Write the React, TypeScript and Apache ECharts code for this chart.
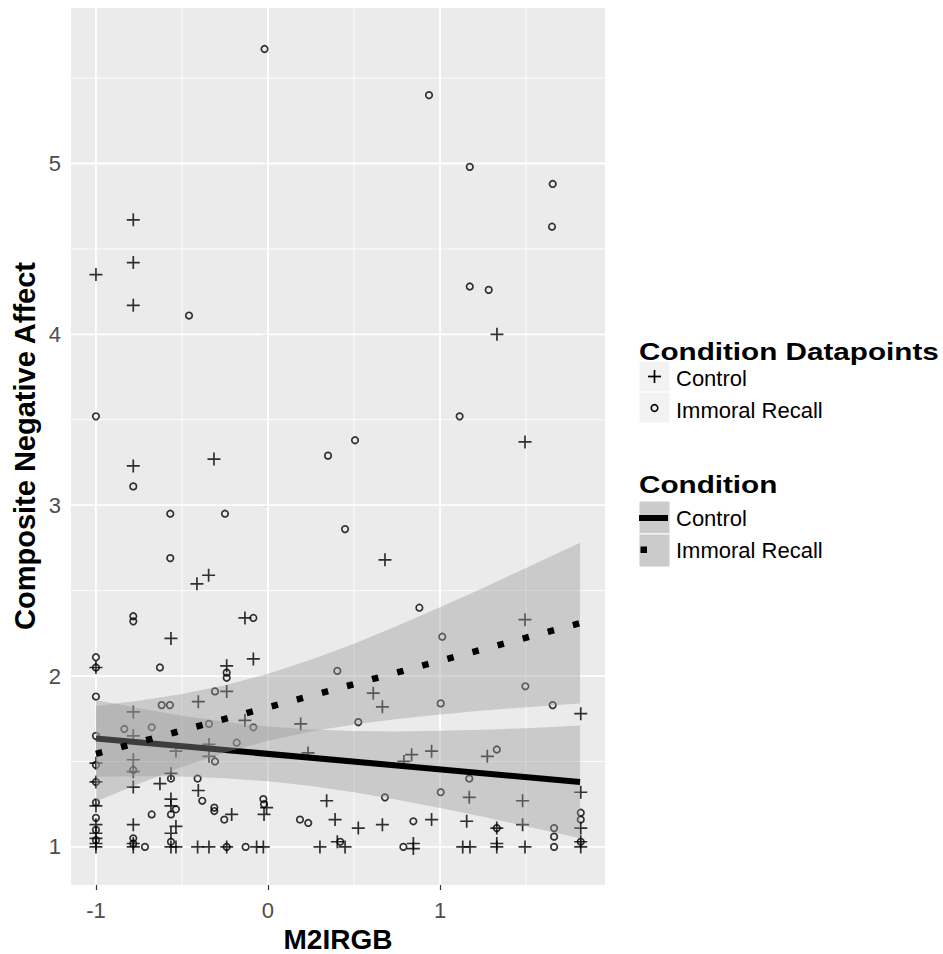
import React, { useEffect, useRef } from "react";
import * as echarts from "echarts";

// ---- axis ranges and ticks ----
const X_MIN = -1.145;
const X_MAX = 1.959;
const Y_MIN = 0.777;
const Y_MAX = 5.91;
const xTicks = [-1, 0, 1];
const yTicks = [1, 2, 3, 4, 5];
const xMinor = [-0.5, 0.5, 1.5];
const yMinor = [1.5, 2.5, 3.5, 4.5, 5.5];

// ---- data points ----
const controlPoints: [number, number][] = [
  [-1.0, 4.35], [-0.783, 4.67], [-0.783, 4.42], [-0.783, 4.17], [-0.314, 3.27], [-0.783, 3.23],
  [-0.345, 2.59], [-0.413, 2.54], [1.331, 4.0], [1.494, 3.37], [0.68, 2.68], [-0.134, 2.34],
  [-0.564, 2.22], [-0.085, 2.1], [-1.0, 2.05], [-0.24, 2.06], [-0.24, 1.91], [-0.405, 1.85],
  [-0.783, 1.79], [-0.783, 1.65], [-0.134, 1.74], [0.19, 1.72], [-0.343, 1.6], [-0.343, 1.53],
  [-0.535, 1.56], [-1.0, 1.49], [-0.783, 1.51], [-0.783, 1.44], [-0.564, 1.43], [-1.0, 1.38],
  [-0.783, 1.35], [-0.628, 1.37], [-0.405, 1.33], [-0.564, 1.28], [-0.564, 1.24], [-0.211, 1.19],
  [-0.008, 1.23], [-0.023, 1.19], [-1.0, 1.24], [-1.0, 1.13], [-1.0, 1.08], [-1.0, 1.05],
  [-1.0, 1.02], [-1.0, 1.0], [-0.783, 1.13], [-0.535, 1.12], [-0.564, 1.08], [0.341, 1.27],
  [0.39, 1.16], [0.612, 1.9], [0.665, 1.82], [1.494, 2.33], [1.818, 1.78], [0.835, 1.54],
  [0.951, 1.56], [1.275, 1.53], [1.818, 1.32], [1.17, 1.29], [1.48, 1.27], [1.818, 1.11],
  [0.525, 1.11], [0.665, 1.13], [0.951, 1.16], [1.155, 1.15], [1.33, 1.11], [1.48, 1.13],
  [0.233, 1.55], [0.79, 1.5],
  [-0.783, 1.0], [-0.783, 1.02], [-0.564, 1.0], [-0.535, 1.0], [-0.409, 1.0], [-0.343, 1.0],
  [-0.24, 1.0], [-0.066, 1.0], [-0.027, 1.0], [0.302, 1.0], [0.403, 1.03], [0.448, 1.0],
  [0.845, 1.02], [0.845, 0.99], [1.132, 1.0], [1.174, 1.0], [1.33, 1.0], [1.33, 1.02],
  [1.494, 1.0], [1.818, 1.0], [1.818, 1.03],
];

const immoralPoints: [number, number][] = [
  [-0.02, 5.67], [0.936, 5.4], [1.173, 4.98], [1.655, 4.88], [1.651, 4.63], [1.173, 4.28],
  [1.283, 4.26], [-0.459, 4.11], [-1.0, 3.52], [1.114, 3.52], [0.349, 3.29], [0.506, 3.38],
  [-0.783, 3.11], [-0.568, 2.95], [-0.25, 2.95], [-0.568, 2.69], [0.448, 2.86], [-0.783, 2.35],
  [-0.783, 2.32], [-0.085, 2.34], [-1.0, 2.11], [-1.0, 2.05], [-0.628, 2.05], [-0.24, 2.02],
  [-0.24, 1.99], [0.403, 2.03], [0.88, 2.4], [1.013, 2.23], [-1.0, 1.88], [-0.308, 1.91],
  [-0.618, 1.83], [-0.57, 1.83], [-0.835, 1.69], [-0.676, 1.7], [-1.0, 1.65], [-0.343, 1.72],
  [-0.085, 1.7], [-0.182, 1.61], [-0.308, 1.5], [-1.0, 1.48], [-0.783, 1.45], [-0.564, 1.4],
  [-0.409, 1.4], [-1.0, 1.38], [-0.382, 1.27], [-0.535, 1.22], [-0.564, 1.19], [-0.676, 1.19],
  [-0.312, 1.23], [-0.312, 1.21], [-0.254, 1.16], [-0.027, 1.28], [-0.023, 1.25], [0.186, 1.16],
  [0.234, 1.14], [1.496, 1.94], [1.004, 1.84], [1.655, 1.83], [0.525, 1.73], [1.33, 1.57],
  [1.17, 1.4], [0.68, 1.29], [1.004, 1.32], [1.818, 1.2], [1.818, 1.16], [0.845, 1.15],
  [1.33, 1.11], [1.663, 1.11], [1.663, 1.06], [1.663, 1.0], [-1.0, 1.26], [-1.0, 1.17],
  [-1.0, 1.1], [-1.0, 1.04], [-0.783, 1.05], [-0.783, 1.02], [-0.715, 1.0], [-0.564, 1.03],
  [-0.24, 1.0], [-0.13, 1.0], [0.42, 1.03], [0.787, 1.0], [1.818, 1.03],
];

// ---- fitted lines and confidence bands ----
const fitX = [-1, 1.814];
const controlFit = [1.635, 1.38];
const immoralFit = [1.545, 2.31];

const bandX = [-1, -0.75, -0.5, -0.25, 0, 0.25, 0.5, 0.75, 1, 1.25, 1.5, 1.814];
const controlLower = [1.41, 1.413, 1.412, 1.402, 1.384, 1.357, 1.32, 1.276, 1.228, 1.176, 1.121, 1.05];
const controlUpper = [1.86, 1.811, 1.768, 1.732, 1.704, 1.687, 1.678, 1.676, 1.68, 1.686, 1.695, 1.71];
const immoralLower = [1.265, 1.37, 1.467, 1.552, 1.621, 1.676, 1.717, 1.749, 1.775, 1.798, 1.818, 1.84];
const immoralUpper = [1.825, 1.856, 1.895, 1.946, 2.013, 2.095, 2.189, 2.293, 2.403, 2.516, 2.632, 2.78];

const FONT = '"Liberation Sans", Arial, Helvetica, sans-serif';
const PLUS = "path://M0,6.5L13,6.5M6.5,0L6.5,13";
const BAND_FILL = "rgba(153,153,153,0.4)";

type GridDef = { dir: "x" | "y"; v: number; major: boolean };
const gridDefs: GridDef[] = [
  ...xMinor.map((v) => ({ dir: "x" as const, v, major: false })),
  ...yMinor.map((v) => ({ dir: "y" as const, v, major: false })),
  ...xTicks.map((v) => ({ dir: "x" as const, v, major: true })),
  ...yTicks.map((v) => ({ dir: "y" as const, v, major: true })),
];

function bandSeries(name: string, lower: number[], upper: number[], z: number) {
  return {
    type: "custom",
    name,
    z,
    silent: true,
    data: bandX.map((x, i) => [x, lower[i], upper[i]]),
    encode: { x: 0, y: [1, 2] },
    renderItem: (params: any, api: any) => {
      if (params.dataIndex !== 0) return null;
      const pts: number[][] = [];
      for (let i = 0; i < bandX.length; i++) pts.push(api.coord([bandX[i], upper[i]]));
      for (let i = bandX.length - 1; i >= 0; i--) pts.push(api.coord([bandX[i], lower[i]]));
      return { type: "polygon", shape: { points: pts }, style: { fill: BAND_FILL } };
    },
  };
}

export default function App() {
  const ref = useRef<HTMLDivElement>(null);

  useEffect(() => {
    if (!ref.current) return;
    const chart = echarts.init(ref.current, undefined, { renderer: "svg" });

    const legendText = (text: string, x: number, y: number) => ({
      type: "text",
      x,
      y,
      style: { text, font: `22px ${FONT}`, fill: "#000", textAlign: "left", textVerticalAlign: "middle" },
    });
    const legendTitle = (text: string, x: number, y: number) => ({
      type: "text",
      x,
      y,
      scaleX: 1.29,
      style: { text, font: `bold 23px ${FONT}`, fill: "#000", textAlign: "left", textVerticalAlign: "middle" },
    });

    const option: any = {
      animation: false,
      backgroundColor: "#ffffff",
      grid: {
        left: 71,
        top: 8,
        width: 534,
        height: 877,
        show: true,
        backgroundColor: "#ebebeb",
        borderWidth: 0,
        containLabel: false,
        outerBoundsMode: "none",
      },
      xAxis: {
        type: "value",
        min: X_MIN,
        max: X_MAX,
        splitLine: { show: false },
        axisLine: { show: false },
        axisTick: { show: true, customValues: xTicks, length: 5, lineStyle: { color: "#333333", width: 1.2 } },
        axisLabel: { customValues: xTicks, color: "#4d4d4d", fontSize: 22, fontFamily: FONT, margin: 14 },
      },
      yAxis: {
        type: "value",
        min: Y_MIN,
        max: Y_MAX,
        splitLine: { show: false },
        axisLine: { show: false },
        axisTick: { show: true, customValues: yTicks, length: 5, lineStyle: { color: "#333333", width: 1.2 } },
        axisLabel: { customValues: yTicks, color: "#4d4d4d", fontSize: 22, fontFamily: FONT, margin: 10 },
      },
      series: [
        {
          type: "custom",
          name: "grid",
          z: 1,
          silent: true,
          data: gridDefs.map((g) => [g.dir === "x" ? g.v : 0, g.dir === "y" ? g.v : 1]),
          renderItem: (params: any, api: any) => {
            const g = gridDefs[params.dataIndex];
            let p1: number[];
            let p2: number[];
            if (g.dir === "x") {
              p1 = api.coord([g.v, Y_MIN]);
              p2 = api.coord([g.v, Y_MAX]);
            } else {
              p1 = api.coord([X_MIN, g.v]);
              p2 = api.coord([X_MAX, g.v]);
            }
            return {
              type: "line",
              shape: { x1: p1[0], y1: p1[1], x2: p2[0], y2: p2[1] },
              style: { stroke: "#ffffff", lineWidth: g.major ? 1.8 : 0.9 },
            };
          },
        },
        {
          type: "scatter",
          name: "Control points",
          z: 2,
          silent: true,
          data: controlPoints,
          symbol: PLUS,
          symbolSize: 13,
          itemStyle: { color: "none", borderColor: "#000000", borderWidth: 1.7 },
        },
        {
          type: "scatter",
          name: "Immoral points",
          z: 2,
          silent: true,
          data: immoralPoints,
          symbol: "circle",
          symbolSize: 6.5,
          itemStyle: { color: "none", borderColor: "#000000", borderWidth: 1.7 },
        },
        bandSeries("Control band", controlLower, controlUpper, 3),
        {
          type: "line",
          name: "Control fit",
          z: 4,
          silent: true,
          data: fitX.map((x, i) => [x, controlFit[i]]),
          showSymbol: false,
          symbol: "none",
          lineStyle: { color: "#000000", width: 6, cap: "butt" },
        },
        bandSeries("Immoral band", immoralLower, immoralUpper, 5),
        {
          type: "line",
          name: "Immoral fit",
          z: 6,
          silent: true,
          data: fitX.map((x, i) => [x, immoralFit[i]]),
          showSymbol: false,
          symbol: "none",
          lineStyle: { color: "#000000", width: 6.5, type: [6.5, 19.5], cap: "butt" },
        },
      ],
      graphic: [
        // axis titles
        {
          type: "text",
          x: 338,
          y: 939,
          style: { text: "M2IRGB", font: `bold 28px ${FONT}`, fill: "#000", textAlign: "center", textVerticalAlign: "middle" },
        },
        {
          type: "text",
          x: 25,
          y: 446,
          rotation: Math.PI / 2,
          style: {
            text: "Composite Negative Affect",
            font: `bold 29px ${FONT}`,
            fill: "#000",
            textAlign: "center",
            textVerticalAlign: "middle",
          },
        },
        // legend 1
        legendTitle("Condition Datapoints", 639, 352),
        { type: "rect", shape: { x: 639, y: 361, width: 31, height: 31 }, style: { fill: "#f2f2f2", stroke: "#ffffff", lineWidth: 1 } },
        { type: "rect", shape: { x: 639, y: 392, width: 31, height: 31 }, style: { fill: "#f2f2f2", stroke: "#ffffff", lineWidth: 1 } },
        { type: "line", shape: { x1: 648, y1: 376.5, x2: 661, y2: 376.5 }, style: { stroke: "#000", lineWidth: 1.7 } },
        { type: "line", shape: { x1: 654.5, y1: 370, x2: 654.5, y2: 383 }, style: { stroke: "#000", lineWidth: 1.7 } },
        { type: "circle", shape: { cx: 654.5, cy: 408, r: 3.3 }, style: { fill: "none", stroke: "#000", lineWidth: 1.6 } },
        legendText("Control", 676, 378),
        legendText("Immoral Recall", 676, 410),
        // legend 2
        legendTitle("Condition", 639, 485),
        { type: "rect", shape: { x: 639, y: 501, width: 31, height: 33 }, style: { fill: "#cbcbcb", stroke: "#ffffff", lineWidth: 1 } },
        { type: "rect", shape: { x: 639, y: 534, width: 31, height: 33 }, style: { fill: "#cbcbcb", stroke: "#ffffff", lineWidth: 1 } },
        { type: "line", shape: { x1: 639, y1: 518, x2: 668, y2: 518 }, style: { stroke: "#000", lineWidth: 6 } },
        { type: "rect", shape: { x: 640.5, y: 546.5, width: 6.5, height: 6.5 }, style: { fill: "#000" } },
        legendText("Control", 676, 518.5),
        legendText("Immoral Recall", 676, 550.5),
      ],
    };

    chart.setOption(option);
    return () => chart.dispose();
  }, []);

  return (
    <div
      ref={ref}
      style={{ position: "fixed", left: 0, top: 0, width: 943, height: 954, background: "#fff" }}
    />
  );
}
